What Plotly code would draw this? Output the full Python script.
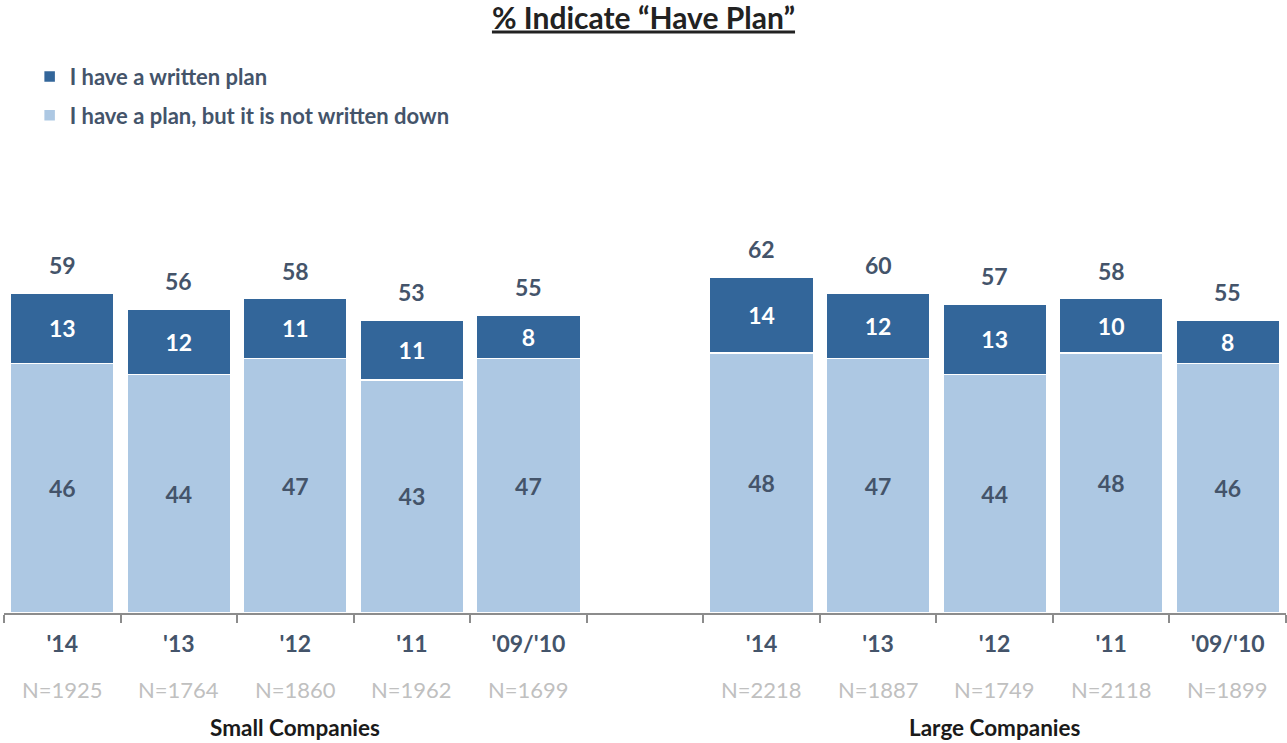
import plotly.graph_objects as go

# ---- data ----
categories = ["S14", "S13", "S12", "S11", "S0910", "GAP", "L14", "L13", "L12", "L11", "L0910"]
year_labels = ["'14", "'13", "'12", "'11", "'09/'10", "", "'14", "'13", "'12", "'11", "'09/'10"]
written_plan = [13, 12, 11, 11, 8, None, 14, 12, 13, 10, 8]
unwritten_plan = [46, 44, 47, 43, 47, None, 48, 47, 44, 48, 46]
total_have_plan = [59, 56, 58, 53, 55, None, 62, 60, 57, 58, 55]
sample_sizes = ["N=1925", "N=1764", "N=1860", "N=1962", "N=1699", "",
                "N=2218", "N=1887", "N=1749", "N=2118", "N=1899"]
group_names = ["Small Companies", "Large Companies"]
group_centers = ["S12", "L12"]

DARK = "#33669a"
LIGHT = "#adc8e3"
TEXT = "#44546a"
GRAY = "#c0c0c0"
FONT = "Lato"

fig = go.Figure()
fig.add_trace(go.Bar(
    x=categories, y=unwritten_plan, name="I have a plan, but it is not written down",
    marker=dict(color=LIGHT, line=dict(color="white", width=1.5)),
    texttemplate="<b>%{y}</b>", textposition="inside", insidetextanchor="middle",
    textangle=0, insidetextfont=dict(color=TEXT, size=23, family=FONT),
    legendrank=2, legendgroup="b", hoverinfo="skip"))
fig.add_trace(go.Bar(
    x=categories, y=written_plan, name="I have a written plan",
    marker=dict(color=DARK, line=dict(color="white", width=1.5)),
    texttemplate="<b>%{y}</b>", textposition="inside", insidetextanchor="middle",
    textangle=0, insidetextfont=dict(color="white", size=23, family=FONT),
    legendrank=1, legendgroup="a", hoverinfo="skip"))

annotations = []
for c, w, u, t in zip(categories, written_plan, unwritten_plan, total_have_plan):
    if t is None:
        continue
    annotations.append(dict(x=c, y=w + u, xref="x", yref="y", text=f"<b>{t}</b>",
                            showarrow=False, yanchor="middle", yshift=28,
                            font=dict(size=23, color=TEXT, family=FONT)))
for c, n in zip(categories, sample_sizes):
    if not n:
        continue
    annotations.append(dict(x=c, y=0, xref="x", yref="paper", text=n, showarrow=False,
                            yanchor="middle", yshift=-76,
                            font=dict(size=22, color=GRAY, family=FONT)))
for c, g in zip(group_centers, group_names):
    annotations.append(dict(x=c, y=0, xref="x", yref="paper", text=f"<b>{g}</b>",
                            showarrow=False, yanchor="middle", yshift=-114,
                            font=dict(size=22.5, color="#1a1a1a", family=FONT)))

fig.update_layout(
    width=1287, height=743,
    margin=dict(l=4, r=1, t=71, b=130),
    barmode="stack", bargap=0.11,
    plot_bgcolor="white", paper_bgcolor="white",
    font=dict(family=FONT, color=TEXT),
    title=dict(text="<b><u>% Indicate “Have Plan”</u></b>", x=0.5, xanchor="center",
               y=1 - 18 / 743, yanchor="middle", yref="container",
               font=dict(size=30, color="#222222", family=FONT)),
    showlegend=True,
    legend=dict(x=0.02, xanchor="left", y=1.028, yanchor="top",
                font=dict(size=22, color=TEXT, family=FONT, weight="bold"),
                tracegroupgap=7, bgcolor="rgba(0,0,0,0)"),
    annotations=annotations,
)
fig.update_xaxes(
    type="category", categoryorder="array", categoryarray=categories,
    tickmode="array", tickvals=categories, ticktext=[f"<b>{y}</b>" if y else "" for y in year_labels],
    tickson="boundaries", ticks="outside", ticklen=8, tickwidth=2, tickcolor="#8c8c8c",
    ticklabelstandoff=9,
    showline=True, linecolor="#8c8c8c", linewidth=2, showgrid=False,
    tickfont=dict(size=23, color=TEXT, family=FONT), range=[-0.5, 10.5],
)
fig.update_yaxes(range=[0, 100], visible=False, showgrid=False)

fig.write_html("out.html", config={"displayModeBar": False},
               post_script="document.body.style.margin='0px';")
